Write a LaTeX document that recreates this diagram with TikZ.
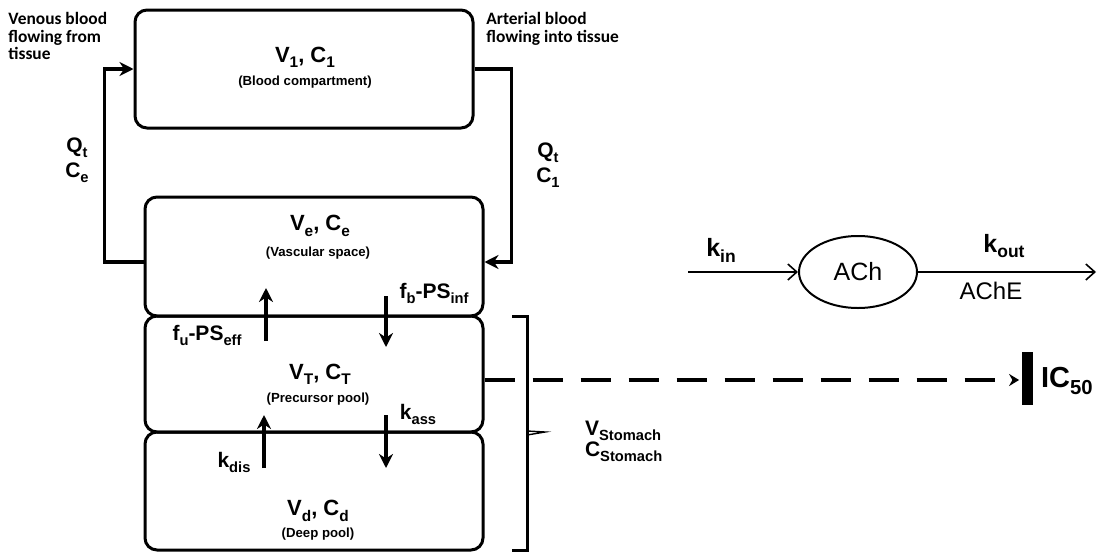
\documentclass[tikz,border=0pt]{standalone}
\usepackage{fontspec}
\setmainfont{Liberation Sans}
\newfontfamily\notefont{Carlito}
\usetikzlibrary{arrows.meta,positioning,shapes.geometric}

\makeatletter
\newcommand{\sbs}[1]{\raisebox{-0.45ex}{\fontsize{\strip@pt\dimexpr0.7\dimexpr\f@size pt\relax\relax}{0pt}\selectfont #1}}
\makeatother

\begin{document}
\begin{tikzpicture}[x=0.5pt,y=-0.5pt,>=Stealth,
  box/.style={draw,line width=1.5pt,rounded corners=6pt,inner sep=0pt,minimum width=169pt},
  title/.style={font=\bfseries\fontsize{11}{13}\selectfont},
  sub/.style={font=\bfseries\fontsize{6.6}{8}\selectfont},
  lab/.style={font=\bfseries\fontsize{10.5}{12}\selectfont},
  note/.style={font=\notefont\bfseries\fontsize{8.7}{8.75}\selectfont,align=left,anchor=north west,inner sep=0pt},
  flow/.style={line width=1.6pt,-{Stealth[length=7pt,width=7pt]}},
  rate/.style={line width=0.8pt,-{Straight Barb[length=4.5pt,width=8pt]}}]
\useasboundingbox (0,0) rectangle (1114,552);

% compartments
\node[box,minimum height=59pt] (blood) at (304,69) {};
\node[box,minimum height=59.5pt] (vasc) at (314,256.5) {};
\node[box,minimum height=58pt] (prec) at (314,374) {};
\node[box,minimum height=59pt] (deep) at (314,491) {};

\node[title] (bloodname) at (305,57) {V\sbs{1}, C\sbs{1}};
\node[sub] (bloodsub) at (305,82) {(Blood compartment)};
\node[title] (vascname) at (320,226) {V\sbs{e}, C\sbs{e}};
\node[sub] (vascsub) at (318,253) {(Vascular space)};
\node[title] (precname) at (320,374) {V\sbs{T}, C\sbs{T}};
\node[sub] (precsub) at (318,399) {(Precursor pool)};
\node[title] (deepname) at (318,511) {V\sbs{d}, C\sbs{d}};
\node[sub] (deepsub) at (318,534) {(Deep pool)};

% blood flow loop
\node[note] (venous) at (8,12) {Venous blood\\flowing from\\tissue};
\node[note] (arterial) at (486,12) {Arterial blood\\flowing into tissue};
\draw[flow] ([yshift=-2.75pt]vasc.west) -- ++(-39,0) |- (blood.west);
\draw[flow] (blood.east) -- ++(37,0) |- ([yshift=-2.75pt]vasc.east);
\node[lab] (qleft) at (77,148) {Q\sbs{t}};
\node[lab] (celeft) at (77,173) {C\sbs{e}};
\node[lab] (qright) at (548,153) {Q\sbs{t}};
\node[lab] (cright) at (548,178) {C\sbs{1}};

% exchange between pools
\coordinate (effA) at (266,341);
\coordinate (effB) at (266,288);
\coordinate (infA) at (386,296);
\coordinate (infB) at (386,347);
\coordinate (disA) at (264,468);
\coordinate (disB) at (264,415);
\coordinate (assA) at (386,415);
\coordinate (assB) at (386,468);
\draw[flow] (effA) -- (effB);
\draw[flow] (infA) -- (infB);
\draw[flow] (disA) -- (disB);
\draw[flow] (assA) -- (assB);
\node[lab] (eff) at (207,335) {f\sbs{u}-PS\sbs{eff}};
\node[lab] (inf) at (434,293) {f\sbs{b}-PS\sbs{inf}};
\node[lab] (ass) at (418,414) {k\sbs{ass}};
\node[lab] (dis) at (234,462) {k\sbs{dis}};

% stomach bracket
\draw[line width=1.5pt] (512,316) -- (527,316) -- (527,550) -- (512,550);
\draw[line width=0.7pt] (527,431) -- (545,432) -- (527,435);
\node[lab,anchor=west] (vst) at (578,431) {V\sbs{Stomach}};
\node[lab,anchor=west] (cst) at (578,452) {C\sbs{Stomach}};

% inhibition of AChE
\node[fill,minimum width=5.5pt,minimum height=26.5pt,inner sep=0pt] (bar) at (1027,378) {};
\draw[line width=2pt,dash pattern=on 15pt off 9pt,-{Stealth[length=5pt,width=6pt]}]
  ([yshift=-3pt]prec.east) -- ([xshift=-1pt]bar.west |- 0,380);
\node[font=\bfseries\fontsize{14.5}{17}\selectfont,anchor=west] (ic) at (1034,381) {IC\sbs{50}};

% turnover of ACh
\node[ellipse,draw,line width=1pt,minimum width=59pt,minimum height=36pt,
  font=\fontsize{12.5}{14}\selectfont] (ach) at (858,272) {ACh};
\coordinate (kinstart) at (688,272);
\coordinate (koutend) at (1096,272);
\draw[rate] (kinstart) -- (ach.west);
\draw[rate] (ach.east) -- (koutend);
\node[lab,font=\bfseries\fontsize{12.5}{14}\selectfont] (kin) at (721,250) {k\sbs{in}};
\node[lab,font=\bfseries\fontsize{12.5}{14}\selectfont] (kout) at (1004,246) {k\sbs{out}};
\node[font=\fontsize{12}{14}\selectfont] (ache) at (991,291) {AChE};
\end{tikzpicture}
\end{document}
